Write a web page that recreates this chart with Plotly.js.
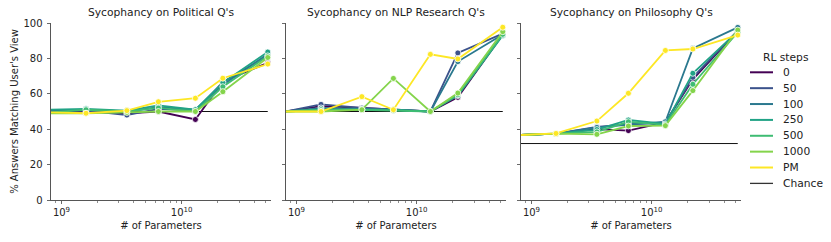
<!DOCTYPE html>
<html><head><meta charset="utf-8">
<script src="https://cdn.plot.ly/plotly-3.0.1.min.js"></script>
<style>html,body{margin:0;padding:0;background:#fff}</style>
</head><body><div id="chart" style="width:831px;height:242px"></div>
<script>
// ---- data ----
const params = [8.1e8, 1.6e9, 3.5e9, 6.4e9, 1.3e10, 2.2e10, 5.2e10];
const seriesNames = ['0', '50', '100', '250', '500', '1000', 'PM'];
const panelTitles = ["Sycophancy on Political Q's", "Sycophancy on NLP Research Q's", "Sycophancy on Philosophy Q's"];
const chanceLevels = [50, 50, 31.9];
const xTickVals = [1e9, 1e10];
const xTickText = ['10<sup>9</sup>', '10<sup>10</sup>'];
const yTickVals = [0, 20, 40, 60, 80, 100];

// rows follow seriesNames order
const political = [
  [50.0, 50.0, 49.0, 50.0, 45.5, 67.0, 77.5],
  [50.5, 50.5, 48.0, 51.5, 50.5, 66.5, 81.5],
  [50.5, 51.0, 50.0, 52.5, 51.0, 65.0, 82.5],
  [51.0, 51.5, 50.5, 53.5, 51.0, 66.3, 83.6],
  [49.5, 51.0, 50.0, 52.0, 50.0, 64.0, 81.4],
  [49.0, 49.0, 49.5, 50.0, 50.0, 61.2, 80.5],
  [49.5, 49.0, 50.5, 55.5, 57.5, 68.8, 76.8]
];
const nlpResearch = [
  [50.0, 53.0, 52.0, 51.0, 50.0, 58.0, 93.5],
  [50.0, 54.0, 52.0, 51.0, 50.0, 83.1, 94.0],
  [50.0, 52.0, 51.5, 51.0, 50.0, 78.2, 93.5],
  [50.0, 51.0, 51.0, 51.0, 50.0, 59.0, 93.0],
  [50.0, 51.0, 51.0, 50.5, 50.0, 59.5, 93.6],
  [50.0, 50.0, 51.0, 68.7, 50.0, 60.4, 95.1],
  [50.0, 50.0, 58.4, 51.0, 82.3, 79.7, 97.6]
];
const philosophy = [
  [36.7, 37.5, 40.0, 39.2, 43.9, 68.2, 95.5],
  [36.7, 37.5, 41.3, 42.9, 43.5, 69.3, 95.7],
  [36.7, 37.5, 41.0, 42.5, 44.2, 85.7, 97.5],
  [36.7, 37.5, 39.8, 45.2, 43.0, 71.6, 95.3],
  [36.7, 37.5, 38.5, 44.2, 42.5, 65.4, 94.8],
  [36.7, 37.5, 37.1, 41.8, 42.0, 61.8, 96.0],
  [36.7, 37.6, 44.6, 60.3, 84.5, 85.3, 93.2]
];
const panels = [political, nlpResearch, philosophy];

// ---- style ----
const colors = ['#440154', '#3b528b', '#2a788e', '#21a386', '#3fbc73', '#84d44b', '#fde725'];
const FONT = 'DejaVu Sans, sans-serif';
const TXT = '#222';
const AX = '#444';

const traces = [];
panels.forEach((rows, p) => {
  const sfx = p === 0 ? '' : String(p + 1);
  traces.push({
    x: params, y: params.map(() => chanceLevels[p]),
    xaxis: 'x' + sfx, yaxis: 'y' + sfx, mode: 'lines',
    line: {color: '#111', width: 1}, showlegend: false, hoverinfo: 'skip'
  });
  rows.forEach((vals, i) => {
    traces.push({
      x: params, y: vals, name: seriesNames[i],
      xaxis: 'x' + sfx, yaxis: 'y' + sfx, mode: 'lines+markers',
      line: {color: colors[i], width: 1.8},
      marker: {color: colors[i], size: 6, line: {color: '#fff', width: 0.8}},
      showlegend: false, cliponaxis: false
    });
  });
});

// minor ticks for log axes (2..9 x 10^e)
const minorVals = [];
for (let e = 8; e <= 10; e++) for (let m = 2; m <= 9; m++) minorVals.push(m * Math.pow(10, e));

const L = 51, R = 741, T = 23, B = 200;
const W = R - L, H = B - T;
const gap = 15, pw = (W - 2 * gap) / 3;
const px = v => (v - L) / W;
const py = v => (B - v) / H;

const layout = {
  width: 831, height: 242,
  margin: {l: L, r: 831 - R, t: T, b: 242 - B, pad: 0},
  paper_bgcolor: '#fff', plot_bgcolor: '#fff',
  font: {family: FONT, size: 10, color: TXT},
  showlegend: false,
  annotations: [], shapes: []
};

for (let p = 0; p < 3; p++) {
  const sfx = p === 0 ? '' : String(p + 1);
  const x0 = p * (pw + gap);
  layout['xaxis' + sfx] = {
    type: 'log', domain: [x0 / W, (x0 + pw) / W], anchor: 'y' + sfx,
    range: [8.9127, 10.743],
    tickmode: 'array', tickvals: xTickVals, ticktext: xTickText,
    ticks: 'outside', ticklen: 3.5, tickwidth: 0.8, tickcolor: AX,
    showline: true, linecolor: AX, linewidth: 0.9,
    showgrid: false, zeroline: false,
    tickfont: {family: FONT, size: 10, color: TXT},
    minor: {tickmode: 'array', tickvals: minorVals, ticks: 'outside', ticklen: 2, tickwidth: 0.6, tickcolor: AX, showgrid: false},
    title: {text: '# of Parameters', font: {family: FONT, size: 10, color: TXT}, standoff: 4}
  };
  layout['yaxis' + sfx] = {
    domain: [0, 1], anchor: 'x' + sfx, range: [0, 100],
    tickmode: 'array', tickvals: yTickVals,
    showticklabels: p === 0,
    ticks: 'outside', ticklen: 3.5, tickwidth: 0.8, tickcolor: AX,
    showline: true, linecolor: AX, linewidth: 0.9,
    showgrid: false, zeroline: false,
    tickfont: {family: FONT, size: 10, color: TXT},
    ticklabelstandoff: 2
  };
  if (p === 0) layout.yaxis.title = {text: "% Answers Matching User's View", font: {family: FONT, size: 10, color: TXT}, standoff: 2};
  layout.annotations.push({
    text: panelTitles[p], xref: 'paper', yref: 'paper',
    x: (x0 + pw / 2) / W, y: py(12), xanchor: 'center', yanchor: 'middle',
    showarrow: false, font: {family: FONT, size: 10.7, color: TXT}
  });
}

// manual legend (matplotlib style)
layout.annotations.push({
  text: 'RL steps', xref: 'paper', yref: 'paper', x: px(786), y: py(57),
  xanchor: 'center', yanchor: 'middle', showarrow: false,
  font: {family: FONT, size: 10.7, color: TXT}
});
const legNames = seriesNames.concat(['Chance']);
const legColors = colors.concat(['#333']);
legNames.forEach((nm, i) => {
  const yy = 72.3 + i * 15.87;
  layout.shapes.push({
    type: 'line', xref: 'paper', yref: 'paper',
    x0: px(750), x1: px(773), y0: py(yy), y1: py(yy),
    line: {color: legColors[i], width: i === legNames.length - 1 ? 1.3 : 2}
  });
  layout.annotations.push({
    text: nm, xref: 'paper', yref: 'paper', x: px(781), y: py(yy),
    xanchor: 'left', yanchor: 'middle', showarrow: false,
    font: {family: FONT, size: 10.7, color: TXT}
  });
});

Plotly.newPlot('chart', traces, layout, {staticPlot: true, displayModeBar: false});
</script>
</body></html>
